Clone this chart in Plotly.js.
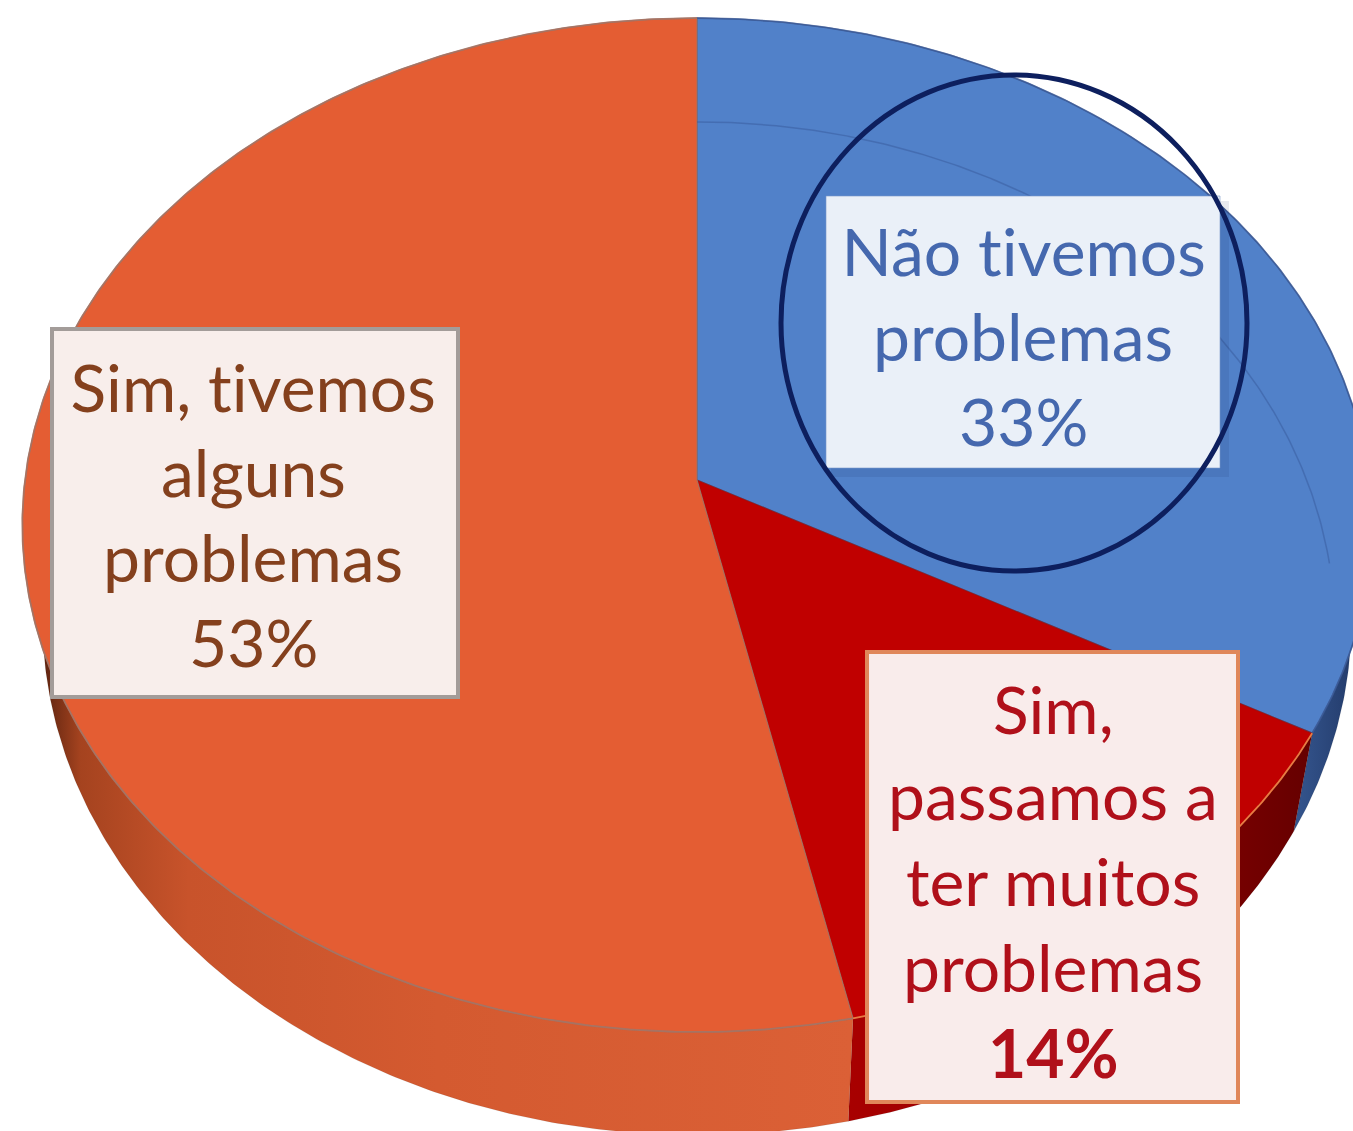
<!DOCTYPE html>
<html>
<head>
<meta charset="utf-8">
<script src="https://cdn.plot.ly/plotly-3.0.1.min.js"></script>
<style>
  html, body { margin: 0; padding: 0; background: #ffffff; }
  #chart { width: 1353px; height: 1131px; }
  #chart text { font-variant-ligatures: none; font-feature-settings: "liga" 0, "clig" 0; }
</style>
</head>
<body>
<div id="chart"></div>
<script>
// ---------------- DATA ----------------
const categories = ["Não tivemos problemas", "Sim, passamos a ter muitos problemas", "Sim, tivemos alguns problemas"];
const values = [33.0, 13.6, 53.4];           // percent shares, clockwise from 12 o'clock
const labelLines = [
  ["Não tivemos", "problemas"],
  ["Sim,", "passamos a", "ter muitos", "problemas"],
  ["Sim, tivemos", "alguns", "problemas"]
];
const percentBold = [false, true, false];

// ---------------- STYLE ----------------
const topColors  = ["#5181C9", "#C00000", "#E45D33"];
const edgeColors = ["rgba(50,80,140,0.8)", "rgba(140,20,20,0.6)", "rgba(160,115,100,0.85)"];
const rimColors  = ["rgba(60,90,150,0.7)", "rgba(235,130,70,0.95)", "rgba(165,115,100,0.9)"];
const sideScales = [
  [[0, "#35568F"], [1, "#1E3360"]],
  [[0, "#A80000"], [0.6, "#8E0000"], [1, "#650000"]],
  [[0, "#2a0f06"], [0.025, "#5e2410"], [0.07, "#A5431F"], [0.2, "#C8532B"], [0.5, "#D45A30"], [1, "#DB6036"]]
];
const textColors = ["#4568AE", "#B0101A", "#84401D"];
const boxFill    = ["#EAF0F8", "#F9ECEB", "#F8EEEB"];
const boxLine    = ["rgba(120,150,200,0.6)", "#E0875A", "#A39C99"];
const boxLineW   = [1, 4, 4];
const boxShadow  = ["rgba(20,40,90,0.10)", "rgba(0,0,0,0)", "rgba(0,0,0,0)"];
// box rectangles [x0, y0, x1, y1] and label text centre/line spacing (page pixels)
const boxes   = [[826, 196, 1220, 468], [867, 652, 1238, 1102], [52, 329, 458, 697]];
const textPos = [[1023, 250], [1053, 708], [253, 386]];
const lineGap = [85, 86, 85];
const fontSize = 66;

// ---------------- GEOMETRY (perspective disc) ----------------
const G = {cx: 697, cy: 480, Sx: 672, Sy: 503, k: 0.0888, H: 94, s: 0.97};
function proj(deg, r, bottom) {
  const t = deg * Math.PI / 180;
  const X = r * Math.sin(t), Yd = r * Math.cos(t), w = 1 + G.k * Yd;
  const sx = G.cx + G.Sx * X / w, sy = G.cy - G.Sy * Yd / w;
  if (bottom) return [G.cx + G.s * (sx - G.cx), sy + G.H / w];
  return [sx, sy];
}
function arc(a, b, r, bottom) {
  const pts = [];
  const n = Math.max(2, Math.ceil(Math.abs(b - a) / 0.5));
  for (let i = 0; i <= n; i++) pts.push(proj(a + (b - a) * i / n, r, bottom));
  return pts;
}

const total = values.reduce((p, c) => p + c, 0);
const bounds = [];
let acc = 0;
values.forEach(v => { const a = acc / total * 360; acc += v; bounds.push([a, acc / total * 360]); });

const sideTraces = [], topTraces = [], rimTraces = [];
bounds.forEach(([a, b], i) => {
  // visible outer wall (front half)
  const a2 = Math.max(a, 85), b2 = Math.min(b, 275);
  if (b2 > a2) {
    const pts = arc(a2, b2, 1, false).concat(arc(b2, a2, 1, true));
    pts.push(pts[0]);
    sideTraces.push({
      type: "scatter", mode: "lines", x: pts.map(p => p[0]), y: pts.map(p => p[1]),
      fill: "toself", fillgradient: {type: "horizontal", colorscale: sideScales[i]},
      line: {width: 0.5, color: "rgba(0,0,0,0.15)"}, hoverinfo: "skip", name: categories[i]
    });
  }
  const top = [proj(0, 0, false)].concat(arc(a, b, 1, false));
  top.push(top[0]);
  topTraces.push({
    type: "scatter", mode: "lines", x: top.map(p => p[0]), y: top.map(p => p[1]),
    fill: "toself", fillcolor: topColors[i],
    line: {width: 1.2, color: edgeColors[i]}, hoverinfo: "skip", name: categories[i]
  });
  const rim = arc(a, b, 1, false);
  rimTraces.push({
    type: "scatter", mode: "lines", x: rim.map(p => p[0]), y: rim.map(p => p[1]),
    line: {width: 1.8, color: rimColors[i]}, hoverinfo: "skip"
  });
});

// faint bevel highlight arc on the first slice
const bevel = [];
for (let d = 0; d <= 100; d += 0.5) {
  const r = 0.76 + 0.22 * Math.pow(d / 110, 2);
  bevel.push(proj(d, Math.min(r, 0.99), false));
}
const bevelTrace = {
  type: "scatter", mode: "lines", x: bevel.map(p => p[0]), y: bevel.map(p => p[1]),
  line: {width: 1.5, color: "rgba(55,90,155,0.5)"}, hoverinfo: "skip"
};

// ---------------- LABELS ----------------
const shapes = [], annotations = [];
values.forEach((v, i) => {
  const [x0, y0, x1, y1] = boxes[i];
  shapes.push({type: "rect", xref: "x", yref: "y", x0: x0 + 5, y0: y0 + 5, x1: x1 + 9, y1: y1 + 9,
    fillcolor: boxShadow[i], line: {width: 0}, layer: "above"});
  shapes.push({type: "rect", xref: "x", yref: "y", x0, y0, x1, y1,
    fillcolor: boxFill[i], line: {color: boxLine[i], width: boxLineW[i]}, layer: "above"});
  const lines = labelLines[i].slice();
  const pct = Math.round(v) + "%";
  lines.push(percentBold[i] ? "<b>" + pct + "</b>" : pct);
  lines.forEach((t, j) => {
    annotations.push({
      x: textPos[i][0], y: textPos[i][1] + j * lineGap[i], xref: "x", yref: "y",
      text: t, showarrow: false, xanchor: "center", yanchor: "middle",
      font: {family: "Lato, 'Open Sans', sans-serif", size: fontSize, color: textColors[i]}
    });
  });
});
// highlight ellipse around the first label
shapes.push({type: "circle", xref: "x", yref: "y", x0: 781, y0: 75, x1: 1247, y1: 571,
  line: {color: "#0D1F5E", width: 5}, fillcolor: "rgba(0,0,0,0)", layer: "above"});

const layout = {
  width: 1353, height: 1131,
  margin: {l: 0, r: 0, t: 0, b: 0},
  paper_bgcolor: "#ffffff", plot_bgcolor: "#ffffff",
  showlegend: false, hovermode: false,
  xaxis: {range: [0, 1353], visible: false, fixedrange: true},
  yaxis: {range: [1131, 0], visible: false, fixedrange: true},
  shapes, annotations
};

Plotly.newPlot("chart", sideTraces.concat(topTraces, rimTraces, [bevelTrace]), layout, {displayModeBar: false, staticPlot: true});
</script>
</body>
</html>
